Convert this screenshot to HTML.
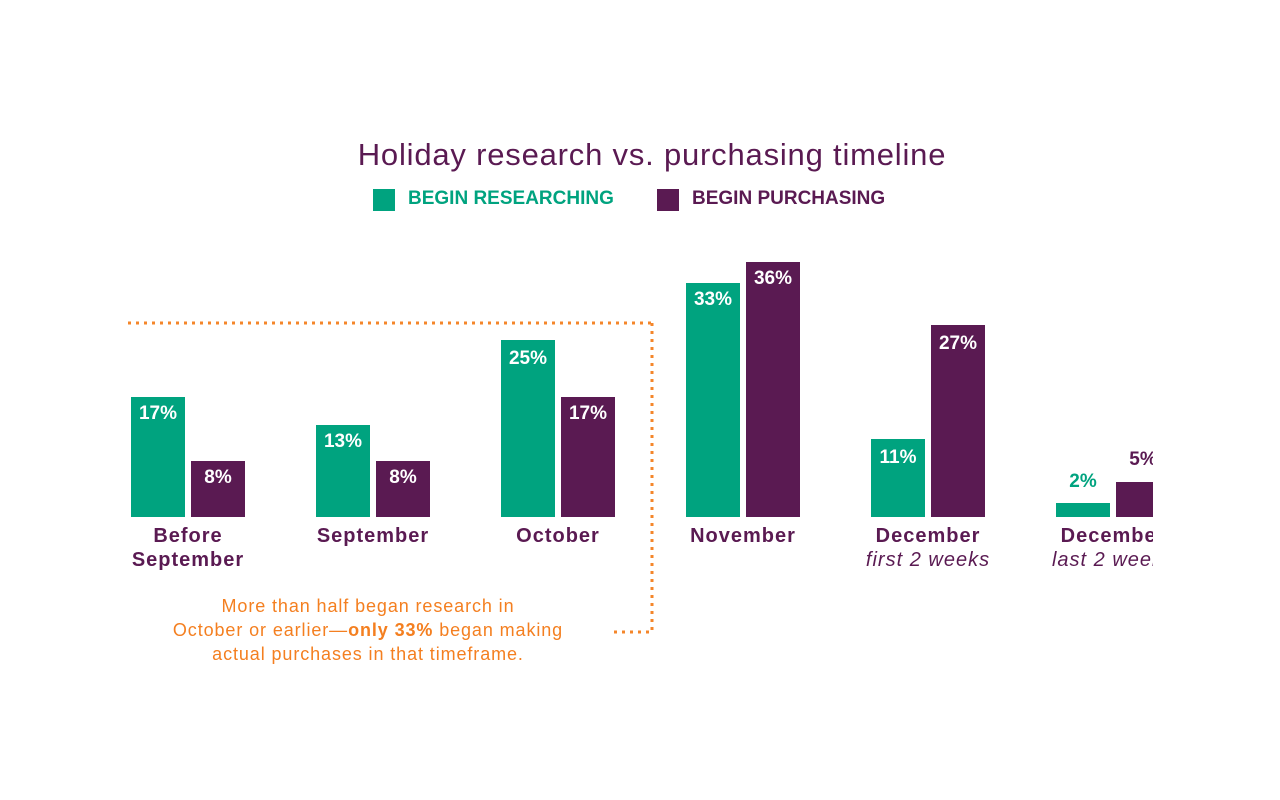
<!DOCTYPE html>
<html><head><style>
body{margin:0;background:#fff;width:1280px;height:800px;overflow:hidden;font-family:"Liberation Sans",sans-serif;}
#c{position:absolute;left:0;top:0;width:1153px;height:800px;overflow:hidden;}
.b{position:absolute;width:54px;}
.g{background:#00a37f}.p{background:#5a1a52}
.v{position:absolute;width:54px;text-align:center;color:#fff;font-weight:bold;font-size:19px;}
.l{position:absolute;width:200px;text-align:center;color:#5a1a52;font-weight:bold;font-size:20px;line-height:24px;letter-spacing:1px;}
.l i{font-weight:normal;font-style:italic;}
.t{position:absolute;color:#5a1a52;}
</style></head><body><div id="c">
<div class="t" style="left:0;width:1304px;text-align:center;top:137px;font-size:31px;letter-spacing:0.8px;">Holiday research vs. purchasing timeline</div>
<div style="position:absolute;left:373px;top:189px;width:22px;height:22px;background:#00a37f"></div>
<div class="t" style="left:408px;top:188px;font-size:19px;font-weight:bold;color:#00a37f">BEGIN RESEARCHING</div>
<div style="position:absolute;left:657px;top:189px;width:22px;height:22px;background:#5a1a52"></div>
<div class="t" style="left:692px;top:188px;font-size:19px;font-weight:bold;">BEGIN PURCHASING</div>

<svg style="position:absolute;left:0;top:0" width="1153" height="800">
<g stroke="#f4862a" stroke-width="3" stroke-dasharray="3 5" fill="none">
<line x1="128" y1="323" x2="652" y2="323"/>
<line x1="652" y1="323" x2="652" y2="633"/>
<line x1="614" y1="632" x2="652" y2="632"/>
</g></svg>

<div class="b g" style="left:131px;top:397px;height:120px"></div><div class="v" style="left:131px;top:403px">17%</div>
<div class="b p" style="left:191px;top:461px;height:56px"></div><div class="v" style="left:191px;top:467px">8%</div>
<div class="b g" style="left:316px;top:425px;height:92px"></div><div class="v" style="left:316px;top:431px">13%</div>
<div class="b p" style="left:376px;top:461px;height:56px"></div><div class="v" style="left:376px;top:467px">8%</div>
<div class="b g" style="left:501px;top:340px;height:177px"></div><div class="v" style="left:501px;top:348px">25%</div>
<div class="b p" style="left:561px;top:397px;height:120px"></div><div class="v" style="left:561px;top:403px">17%</div>
<div class="b g" style="left:686px;top:283px;height:234px"></div><div class="v" style="left:686px;top:289px">33%</div>
<div class="b p" style="left:746px;top:262px;height:255px"></div><div class="v" style="left:746px;top:268px">36%</div>
<div class="b g" style="left:871px;top:439px;height:78px"></div><div class="v" style="left:871px;top:447px">11%</div>
<div class="b p" style="left:931px;top:325px;height:192px"></div><div class="v" style="left:931px;top:333px">27%</div>
<div class="b g" style="left:1056px;top:503px;height:14px"></div><div class="v" style="left:1056px;top:471px;color:#00a37f">2%</div>
<div class="b p" style="left:1116px;top:482px;height:35px"></div><div class="v" style="left:1116px;top:449px;color:#5a1a52">5%</div>

<div class="l" style="left:88px;top:524px">Before<br>September</div>
<div class="l" style="left:273px;top:524px">September</div>
<div class="l" style="left:458px;top:524px">October</div>
<div class="l" style="left:643px;top:524px">November</div>
<div class="l" style="left:828px;top:524px">December<br><i>first 2 weeks</i></div>
<div class="l" style="left:1013px;top:524px">December<br><i>last 2 weeks</i></div>

<div style="position:absolute;left:108px;width:520px;text-align:center;top:594px;color:#f47f20;font-size:18px;letter-spacing:0.9px;line-height:24px;">More than half began research in<br>October or earlier—<b>only 33%</b> began making<br>actual purchases in that timeframe.</div>
</div></body></html>
